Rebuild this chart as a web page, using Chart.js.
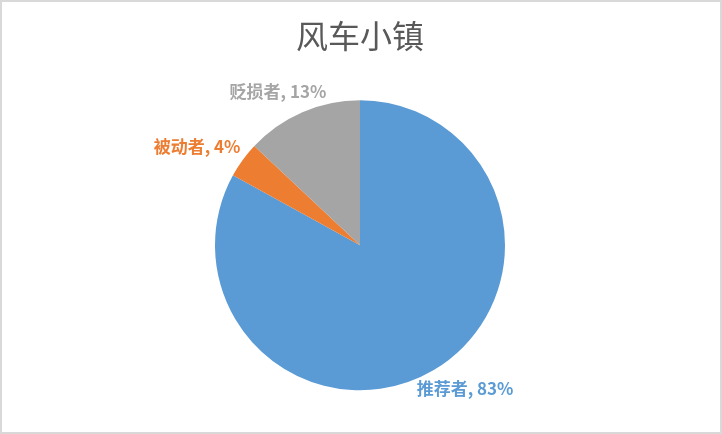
<!DOCTYPE html>
<html>
<head>
<meta charset="utf-8">
<script src="https://cdn.jsdelivr.net/npm/chart.js@4.4.0/dist/chart.umd.min.js"></script>
<style>
  html, body { margin: 0; padding: 0; background: #fff; }
  #wrap { width: 722px; height: 434px; box-sizing: border-box; border: 2px solid #d9d9d9; }
  canvas { display: block; }
</style>
</head>
<body>
<div id="wrap"><canvas id="pie" width="718" height="430"></canvas></div>
<script>
const title = "风车小镇";
const categories = ["推荐者", "被动者", "贬损者"];
const shares = [83, 4, 13];
const colors = ["#5B9BD5", "#ED7D31", "#A5A5A5"];

const labelFont = "bold 17px 'Noto Sans CJK SC', 'Noto Sans', sans-serif";

// outside labels, pushed out along each slice's middle angle
const sliceLabels = {
  id: "sliceLabels",
  afterDatasetsDraw(chart) {
    const ctx = chart.ctx;
    const meta = chart.getDatasetMeta(0);
    ctx.save();
    ctx.font = labelFont;
    ctx.textAlign = "center";
    ctx.textBaseline = "middle";
    meta.data.forEach((arc, i) => {
      const p = arc.getProps(["x", "y", "startAngle", "endAngle", "outerRadius"], true);
      const mid = (p.startAngle + p.endAngle) / 2;
      const text = categories[i] + ", " + shares[i] + "%";
      const w = ctx.measureText(text).width;
      const h = 18;
      const r = p.outerRadius + 13;
      const x = p.x + Math.cos(mid) * (r + w / 2);
      const y = p.y + Math.sin(mid) * (r + h / 2);
      ctx.fillStyle = colors[i];
      ctx.fillText(text, x, y);
    });
    ctx.restore();
  }
};

new Chart(document.getElementById("pie"), {
  type: "pie",
  data: {
    labels: categories,
    datasets: [{
      data: shares,
      backgroundColor: colors,
      borderWidth: 0,
      radius: 145
    }]
  },
  options: {
    responsive: false,
    animation: false,
    layout: { padding: { top: 0, bottom: 10, left: 0, right: 2 } },
    plugins: {
      legend: { display: false },
      tooltip: { enabled: false },
      title: {
        display: true,
        text: title,
        color: "#595959",
        font: { family: "'Noto Sans CJK SC', sans-serif", size: 32, weight: "normal", lineHeight: 1.2 },
        padding: { top: 15, bottom: 13 }
      }
    }
  },
  plugins: [sliceLabels]
});
</script>
</body>
</html>
